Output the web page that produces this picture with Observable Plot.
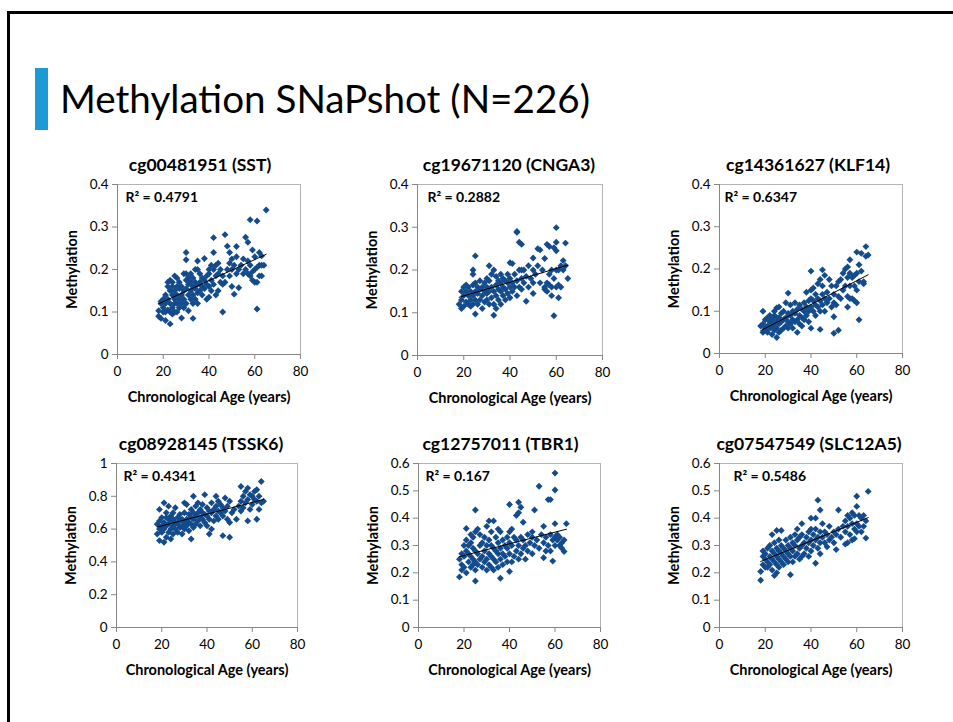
<!DOCTYPE html>
<html><head><meta charset="utf-8">
<script src="https://cdn.jsdelivr.net/npm/d3@7"></script>
<script src="https://cdn.jsdelivr.net/npm/@observablehq/plot@0.6"></script>
<style>
html,body{margin:0;padding:0;background:#fff;}
#page{position:relative;width:953px;height:722px;overflow:hidden;background:#fff;font-family:Lato,"Open Sans",sans-serif;}
#slide{position:absolute;left:7px;top:11px;width:1100px;height:900px;border-left:3px solid #000;border-top:3px solid #000;box-sizing:border-box;}
#bar{position:absolute;left:35px;top:68px;width:13px;height:62px;background:#1b9ad6;}
#title{position:absolute;left:0;top:0;}
.panel{position:absolute;}
.panel svg{overflow:visible;background:none;}
</style></head>
<body>
<div id="page">
  <div id="slide"></div>
  <div id="bar"></div>
  <svg id="title" width="953" height="150"><text x="60" y="113" font-family="Lato" font-size="39" fill="#000" textLength="530" lengthAdjust="spacingAndGlyphs">Methylation SNaPshot (N=226)</text></svg>
</div>
<script>
// ---------- data (age in years, methylation fraction) ----------
const titles = ["cg00481951 (SST)", "cg19671120 (CNGA3)", "cg14361627 (KLF14)",
                "cg08928145 (TSSK6)", "cg12757011 (TBR1)", "cg07547549 (SLC12A5)"];
const r2Labels = ["R² = 0.4791", "R² = 0.2882", "R² = 0.6347", "R² = 0.4341", "R² = 0.167", "R² = 0.5486"];
const xTicks = [0, 20, 40, 60, 80];
const yTicks = [
  [0, 0.1, 0.2, 0.3, 0.4],
  [0, 0.1, 0.2, 0.3, 0.4],
  [0, 0.1, 0.2, 0.3, 0.4],
  [0, 0.2, 0.4, 0.6, 0.8, 1],
  [0, 0.1, 0.2, 0.3, 0.4, 0.5, 0.6],
  [0, 0.1, 0.2, 0.3, 0.4, 0.5, 0.6]
];
const xLabel = "Chronological Age (years)";
const yLabel = "Methylation";

const sst = [[18,0.09],[18,0.103],[19,0.085],[19,0.12],[19,0.125],[20,0.11],[20,0.13],[20,0.1],[21,0.08],[21,0.14],
[21,0.1],[21,0.12],[22,0.105],[22,0.13],[22,0.16],[22,0.17],[23,0.072],[23,0.1],[23,0.12],[23,0.15],[23,0.175],[24,0.095],[24,0.11],[24,0.14],[24,0.16],[24,0.17],[25,0.1],[25,0.13],[25,0.15],[25,0.185],[25,0.12],
[26,0.1],[26,0.12],[26,0.14],[26,0.16],[26,0.18],[27,0.11],[27,0.13],[27,0.155],[27,0.17],[28,0.086],[28,0.12],[28,0.14],[28,0.16],[29,0.11],[29,0.13],[29,0.15],[29,0.19],[30,0.24],[30,0.223],[30,0.12],[30,0.155],[30,0.175],[30,0.19],
[31,0.103],[31,0.14],[31,0.165],[31,0.18],[32,0.13],[32,0.15],[32,0.17],[32,0.19],[33,0.085],[33,0.12],[33,0.14],[33,0.16],[33,0.18],[34,0.13],[34,0.155],[34,0.2],[34,0.17],[35,0.12],[35,0.145],[35,0.165],[35,0.2],[35,0.22],
[36,0.15],[36,0.17],[36,0.19],[37,0.14],[37,0.16],[37,0.18],[38,0.155],[38,0.226],[38,0.175],[39,0.13],[39,0.165],[39,0.185],[40,0.135],[40,0.16],[40,0.2],[40,0.19],
[41,0.21],[41,0.175],[41,0.15],[42,0.275],[42,0.24],[42,0.2],[42,0.165],[43,0.14],[43,0.185],[43,0.21],[44,0.15],[44,0.215],[44,0.19],[45,0.17],[45,0.2],
[46,0.1],[46,0.165],[46,0.185],[47,0.282],[47,0.17],[48,0.255],[48,0.2],[49,0.24],[49,0.185],[49,0.215],[50,0.16],[50,0.2],[50,0.225],
[51,0.142],[51,0.21],[52,0.254],[52,0.19],[52,0.23],[53,0.157],[53,0.2],[54,0.21],[55,0.225],[55,0.19],
[56,0.276],[56,0.2],[57,0.264],[57,0.19],[57,0.22],[58,0.317],[58,0.185],[58,0.21],[59,0.246],[59,0.175],[59,0.195],[60,0.17],[60,0.2],[60,0.23],
[61,0.314],[61,0.107],[61,0.17],[61,0.205],[62,0.24],[62,0.21],[62,0.185],[63,0.232],[63,0.185],[63,0.21],[64,0.21],[65,0.34]];

const cnga3 = [[18,0.12],[19,0.11],[19,0.13],[19,0.15],[20,0.115],[20,0.14],[20,0.16],
[21,0.125],[21,0.15],[21,0.165],[22,0.12],[22,0.14],[22,0.16],[23,0.13],[23,0.15],[23,0.115],[24,0.2],[24,0.19],[24,0.12],[24,0.14],[24,0.165],[25,0.233],[25,0.097],[25,0.13],[25,0.15],[25,0.17],
[26,0.12],[26,0.145],[26,0.16],[27,0.13],[27,0.155],[27,0.175],[28,0.11],[28,0.14],[28,0.16],[29,0.125],[29,0.15],[29,0.17],[30,0.13],[30,0.16],[30,0.18],[30,0.145],
[31,0.21],[31,0.12],[31,0.15],[31,0.175],[32,0.135],[32,0.16],[32,0.19],[33,0.094],[33,0.12],[33,0.15],[33,0.2],[34,0.11],[34,0.14],[34,0.165],[34,0.185],[35,0.13],[35,0.155],[35,0.175],
[36,0.12],[36,0.15],[36,0.17],[36,0.19],[37,0.14],[37,0.16],[37,0.18],[38,0.13],[38,0.155],[38,0.175],[39,0.145],[39,0.17],[39,0.19],[40,0.217],[40,0.16],[40,0.18],[40,0.135],
[41,0.215],[41,0.17],[41,0.15],[42,0.16],[42,0.19],[43,0.29],[43,0.288],[43,0.175],[43,0.14],[44,0.265],[44,0.16],[44,0.2],[45,0.26],[45,0.18],[45,0.155],[45,0.2],
[46,0.17],[46,0.2],[47,0.127],[47,0.185],[48,0.16],[48,0.21],[49,0.18],[50,0.228],[50,0.17],[50,0.145],[50,0.2],
[51,0.19],[52,0.25],[52,0.21],[53,0.247],[53,0.17],[54,0.2],[55,0.227],[55,0.155],[55,0.16],
[56,0.26],[56,0.15],[56,0.17],[57,0.255],[57,0.165],[57,0.19],[58,0.14],[58,0.2],[58,0.16],[59,0.252],[59,0.093],[59,0.18],[60,0.299],[60,0.265],[60,0.245],[60,0.16],[60,0.2],
[61,0.135],[61,0.165],[61,0.2],[62,0.16],[62,0.21],[63,0.222],[63,0.2],[64,0.263],[64,0.21],[65,0.18]];

const klf14 = [[18,0.065],[19,0.1],[19,0.05],[19,0.07],[20,0.06],[20,0.08],[20,0.055],
[21,0.065],[21,0.085],[21,0.05],[22,0.06],[22,0.075],[22,0.09],[23,0.045],[23,0.065],[23,0.08],[24,0.055],[24,0.07],[24,0.09],[24,0.1],[25,0.038],[25,0.06],[25,0.075],[25,0.085],[25,0.108],
[26,0.11],[26,0.05],[26,0.07],[26,0.085],[27,0.055],[27,0.075],[27,0.095],[28,0.06],[28,0.08],[28,0.1],[29,0.065],[29,0.085],[29,0.12],[30,0.143],[30,0.06],[30,0.075],[30,0.095],
[31,0.07],[31,0.09],[31,0.115],[32,0.06],[32,0.08],[32,0.1],[33,0.075],[33,0.095],[33,0.12],[34,0.05],[34,0.08],[34,0.105],[35,0.07],[35,0.09],[35,0.115],
[36,0.065],[36,0.085],[36,0.105],[37,0.08],[37,0.1],[37,0.12],[38,0.09],[38,0.11],[38,0.145],[39,0.075],[39,0.1],[39,0.125],[40,0.195],[40,0.06],[40,0.11],[40,0.13],[40,0.15],
[41,0.1],[41,0.125],[41,0.155],[42,0.09],[42,0.115],[42,0.14],[43,0.11],[43,0.13],[43,0.165],[44,0.057],[44,0.1],[44,0.125],[44,0.175],[45,0.198],[45,0.115],[45,0.14],[45,0.16],
[46,0.1],[46,0.13],[46,0.185],[47,0.145],[47,0.12],[48,0.175],[48,0.13],[49,0.16],[49,0.11],[50,0.048],[50,0.087],[50,0.12],[50,0.14],
[51,0.16],[51,0.115],[52,0.055],[52,0.17],[52,0.135],[53,0.13],[53,0.175],[54,0.15],[54,0.19],[55,0.2],[55,0.16],
[56,0.11],[56,0.135],[56,0.205],[56,0.18],[57,0.222],[57,0.13],[57,0.19],[57,0.16],[58,0.18],[58,0.13],[59,0.185],[59,0.125],[59,0.16],[60,0.24],[60,0.12],[60,0.19],[60,0.15],
[61,0.08],[61,0.21],[61,0.17],[62,0.237],[62,0.195],[63,0.17],[63,0.165],[64,0.253],[64,0.23],[65,0.233]];

const tssk6 = [[18,0.57],[18,0.63],[19,0.53],[19,0.72],[19,0.6],[19,0.65],[20,0.58],[20,0.62],[20,0.67],
[21,0.52],[21,0.76],[21,0.6],[21,0.64],[22,0.55],[22,0.62],[22,0.67],[22,0.7],[23,0.58],[23,0.63],[23,0.66],[23,0.74],[24,0.54],[24,0.6],[24,0.65],[24,0.68],[25,0.57],[25,0.62],[25,0.66],[25,0.7],
[26,0.6],[26,0.64],[26,0.73],[27,0.58],[27,0.63],[27,0.67],[28,0.61],[28,0.65],[28,0.69],[29,0.57],[29,0.62],[29,0.66],[30,0.6],[30,0.64],[30,0.7],[30,0.76],
[31,0.62],[31,0.66],[31,0.75],[32,0.59],[32,0.64],[32,0.69],[33,0.54],[33,0.63],[33,0.67],[33,0.72],[34,0.8],[34,0.61],[34,0.66],[34,0.7],[35,0.63],[35,0.68],[35,0.74],
[36,0.65],[36,0.7],[36,0.76],[37,0.62],[37,0.67],[37,0.72],[38,0.66],[38,0.7],[38,0.75],[39,0.81],[39,0.64],[39,0.69],[40,0.62],[40,0.68],[40,0.73],
[41,0.57],[41,0.66],[41,0.71],[42,0.6],[42,0.7],[42,0.76],[43,0.65],[43,0.72],[44,0.8],[44,0.68],[44,0.74],[45,0.66],[45,0.71],[45,0.77],
[46,0.7],[46,0.75],[47,0.56],[47,0.68],[47,0.73],[48,0.79],[48,0.71],[49,0.66],[49,0.74],[50,0.55],[50,0.64],[50,0.77],
[51,0.7],[52,0.72],[53,0.66],[54,0.74],[55,0.86],[55,0.71],[55,0.77],
[56,0.73],[56,0.8],[57,0.76],[57,0.83],[58,0.85],[58,0.65],[58,0.78],[59,0.72],[59,0.81],[60,0.75],[60,0.8],
[61,0.78],[61,0.83],[62,0.84],[62,0.66],[62,0.77],[63,0.72],[63,0.8],[64,0.89],[64,0.76],[65,0.77]];

const tbr1 = [[18,0.185],[18,0.25],[19,0.21],[19,0.23],[19,0.27],[20,0.22],[20,0.26],[20,0.3],
[21,0.362],[21,0.2],[21,0.28],[21,0.32],[22,0.24],[22,0.27],[22,0.3],[23,0.22],[23,0.26],[23,0.31],[23,0.34],[24,0.23],[24,0.25],[24,0.29],[24,0.33],[25,0.43],[25,0.17],[25,0.21],[25,0.24],[25,0.28],[25,0.35],
[26,0.23],[26,0.27],[26,0.36],[27,0.25],[27,0.3],[27,0.34],[28,0.22],[28,0.26],[28,0.31],[29,0.24],[29,0.28],[29,0.33],[30,0.21],[30,0.25],[30,0.3],[30,0.37],
[31,0.39],[31,0.23],[31,0.27],[31,0.32],[32,0.22],[32,0.26],[32,0.3],[32,0.35],[33,0.39],[33,0.21],[33,0.25],[33,0.29],[34,0.24],[34,0.28],[34,0.33],[35,0.22],[35,0.27],[35,0.31],[35,0.36],
[36,0.18],[36,0.25],[36,0.29],[36,0.35],[37,0.23],[37,0.27],[37,0.32],[38,0.26],[38,0.3],[39,0.24],[39,0.29],[39,0.33],[40,0.45],[40,0.205],[40,0.27],[40,0.31],[40,0.35],
[41,0.24],[41,0.3],[41,0.36],[42,0.26],[42,0.33],[43,0.41],[43,0.28],[43,0.32],[44,0.458],[44,0.42],[44,0.25],[44,0.3],[45,0.44],[45,0.27],[45,0.33],
[46,0.385],[46,0.29],[46,0.32],[47,0.25],[47,0.3],[48,0.34],[48,0.28],[49,0.31],[50,0.27],[50,0.33],[50,0.35],
[51,0.43],[51,0.3],[52,0.32],[53,0.517],[53,0.29],[54,0.34],[55,0.255],[55,0.31],[55,0.37],
[56,0.28],[56,0.33],[57,0.468],[57,0.3],[58,0.468],[58,0.34],[58,0.28],[59,0.243],[59,0.32],[60,0.565],[60,0.503],[60,0.38],[60,0.3],[60,0.33],
[61,0.32],[61,0.34],[62,0.33],[62,0.3],[63,0.29],[63,0.31],[64,0.278],[64,0.32],[65,0.38]];

const slc12a5 = [[18,0.173],[18,0.205],[19,0.23],[19,0.26],[19,0.28],[20,0.22],[20,0.25],[20,0.27],
[21,0.24],[21,0.29],[21,0.22],[22,0.23],[22,0.26],[22,0.3],[23,0.34],[23,0.21],[23,0.25],[23,0.28],[24,0.19],[24,0.24],[24,0.27],[24,0.31],[25,0.355],[25,0.2],[25,0.23],[25,0.26],[25,0.29],
[26,0.22],[26,0.25],[26,0.28],[26,0.32],[27,0.355],[27,0.24],[27,0.27],[27,0.3],[28,0.23],[28,0.26],[28,0.29],[29,0.25],[29,0.28],[29,0.32],[30,0.24],[30,0.27],[30,0.3],
[31,0.193],[31,0.26],[31,0.29],[31,0.33],[32,0.24],[32,0.28],[32,0.31],[33,0.26],[33,0.3],[33,0.34],[34,0.27],[34,0.32],[34,0.36],[35,0.25],[35,0.29],[35,0.33],
[36,0.38],[36,0.26],[36,0.3],[36,0.34],[37,0.27],[37,0.31],[38,0.29],[38,0.33],[39,0.26],[39,0.31],[39,0.35],[40,0.4],[40,0.28],[40,0.32],[40,0.36],
[41,0.3],[41,0.34],[42,0.4],[42,0.235],[42,0.32],[42,0.36],[43,0.466],[43,0.29],[43,0.33],[44,0.43],[44,0.31],[44,0.35],[44,0.27],[45,0.33],[45,0.38],
[46,0.31],[46,0.35],[47,0.295],[47,0.34],[48,0.32],[48,0.37],[49,0.33],[50,0.35],[50,0.31],
[51,0.285],[51,0.34],[52,0.43],[52,0.36],[53,0.33],[54,0.37],[55,0.305],[55,0.35],[55,0.39],
[56,0.31],[56,0.37],[56,0.41],[57,0.34],[57,0.4],[58,0.32],[58,0.38],[58,0.42],[59,0.325],[59,0.36],[59,0.41],[60,0.48],[60,0.443],[60,0.38],[60,0.35],
[61,0.37],[61,0.41],[62,0.35],[62,0.4],[63,0.37],[63,0.41],[64,0.327],[64,0.39],[65,0.498]];

const series = [sst, cnga3, klf14, tssk6, tbr1, slc12a5];

// ---------- layout (pixel positions of each plot frame) ----------
const frames = [
  {left:117, top:184, w:183, h:170, r2dx:8,  tdx:-9},
  {left:417, top:184, w:185, h:171, r2dx:10, tdx:-1},
  {left:719, top:184, w:183, h:169, r2dx:5,  tdx:-3},
  {left:116, top:463, w:181, h:164, r2dx:7,  tdx:-6},
  {left:418, top:463, w:182, h:164, r2dx:7,  tdx:-9},
  {left:719, top:463, w:183, h:164, r2dx:14, tdx:-2}
];
const ML = 60, MR = 12, MT = 40, MB = 56;
const dotColor = "#134b8c";
const axisGray = "#868686";

const page = document.getElementById("page");
series.forEach((data, i) => {
  const f = frames[i];
  const yt = yTicks[i];
  const chart = Plot.plot({
    width: ML + f.w + MR,
    height: MT + f.h + MB,
    marginLeft: ML, marginRight: MR, marginTop: MT, marginBottom: MB,
    style: {fontFamily: "Lato, 'Open Sans', sans-serif", fontSize: "13.5px", color: "#000", background: "none", overflow: "visible"},
    x: {domain: [0, 80]},
    y: {domain: [0, yt[yt.length - 1]]},
    marks: [
      Plot.frame({stroke: "#b4b4b4"}),
      Plot.axisX({ticks: xTicks, tickSize: 5, tickPadding: 7, stroke: axisGray, label: null, tickFormat: d => String(d)}),
      Plot.axisY({ticks: yt, tickSize: 5, tickPadding: 4, stroke: axisGray, label: null, tickFormat: d => String(d)}),
      Plot.ruleX([0], {stroke: axisGray}),
      Plot.ruleY([0], {stroke: axisGray}),
      Plot.dot(data, {x: d => d[0], y: d => d[1], symbol: "diamond2", r: 3.1, fill: dotColor, stroke: "none"}),
      Plot.linearRegressionY(data, {x: d => d[0], y: d => d[1], stroke: "#000", strokeWidth: 1, ci: 0}),
      Plot.text([r2Labels[i]], {frameAnchor: "top-left", textAnchor: "start", lineAnchor: "middle", dx: f.r2dx, dy: 13, fontWeight: "bold", fontSize: 14, fill: "#000"}),
      Plot.text([titles[i]], {frameAnchor: "top", textAnchor: "middle", lineAnchor: "middle", dx: f.tdx, dy: -19, fontWeight: "bold", fontSize: 17.5, fill: "#000"}),
      Plot.text([xLabel], {frameAnchor: "bottom", textAnchor: "middle", lineAnchor: "middle", dy: 43, fontWeight: "bold", fontSize: 14.5, fill: "#000"}),
      Plot.text([yLabel], {frameAnchor: "left", textAnchor: "middle", lineAnchor: "middle", rotate: -90, dx: -45, fontWeight: "bold", fontSize: 14.5, fill: "#000"})
    ]
  });
  const wrap = document.createElement("div");
  wrap.className = "panel";
  wrap.style.left = (f.left - ML) + "px";
  wrap.style.top = (f.top - MT) + "px";
  wrap.appendChild(chart);
  page.appendChild(wrap);
});
</script>
</body></html>
